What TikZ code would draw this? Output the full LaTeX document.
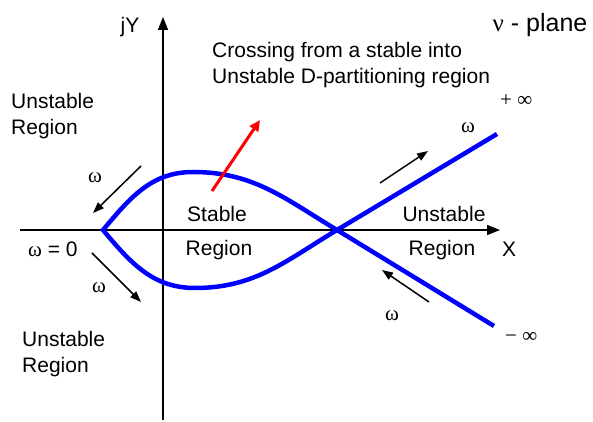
\documentclass[tikz,border=0pt]{standalone}
\usepackage{fontspec}
\setmainfont{Liberation Sans}
\newfontfamily\grk{Liberation Serif}
\usetikzlibrary{arrows.meta}

\begin{document}
\begin{tikzpicture}[
  x=1pt, y=1pt,
  font=\fontsize{21}{26}\selectfont,
  lbl/.style={inner sep=0pt},
  axis/.style={line width=1.6pt, -{Triangle[length=13pt, width=10pt]}},
  curve/.style={draw=blue, line width=4.5pt, line join=miter},
  wdir/.style={line width=1.5pt, -{Triangle[length=11pt, width=8pt]}},
  cross/.style={draw=red, line width=3pt, -{Triangle[length=11pt, width=10pt]}}
]
\useasboundingbox (0,0) rectangle (593,422);
\coordinate (ybot) at (163,2);
\coordinate (ytop) at (163,405);
\coordinate (xleft) at (20,192);
\coordinate (xright) at (500,192);
\draw[axis] (ybot) -- (ytop);
\draw[axis] (xleft) -- (xright);
\node[lbl, anchor=base] (jy) at (130,389) {jY};
\node[lbl, anchor=base] (xlab) at (509,165) {X};
\node[lbl, anchor=base, font=\fontsize{25}{30}\selectfont] (plane) at (540,390) {{\grk ν} - plane};
\node[lbl, align=left, anchor=north west] (note) at (212,380) {Crossing from a stable into\\Unstable D-partitioning region};
\node[lbl, align=left, anchor=north west] (ulreg) at (11,329) {Unstable\\Region};
\node[lbl, align=left, anchor=north west] (llreg) at (22,91) {Unstable\\Region};
\node[lbl, anchor=base] (stab) at (217,200) {Stable};
\node[lbl, anchor=base] (stabreg) at (219,166) {Region};
\node[lbl, anchor=base] (unst) at (444,200) {Unstable};
\node[lbl, anchor=base] (unstreg) at (442,166) {Region};
% curve
\coordinate (cusp) at (103,192);
\coordinate (top) at (193,250);
\coordinate (bot) at (195,134);
\coordinate (mid) at (337,192);
\coordinate (pinf) at (497,288);
\coordinate (minf) at (494,96);
\draw[curve] (minf) -- (mid) to[out=149,in=0] (top) to[out=180,in=50] (cusp)
  to[out=-50,in=180] (bot) to[out=0,in=211] (mid) -- (pinf);
\coordinate (rtail) at (212,231);
\coordinate (rtip) at (260,302);
\draw[cross] (rtail) -- (rtip);
% omega directions
\coordinate (w1a) at (141,256); \coordinate (w1b) at (93,209);
\coordinate (w2a) at (92,169);  \coordinate (w2b) at (141,120);
\coordinate (w3a) at (380,239); \coordinate (w3b) at (428,271);
\coordinate (w4a) at (429,120); \coordinate (w4b) at (382,152);
\draw[wdir] (w1a) -- (w1b);
\draw[wdir] (w2a) -- (w2b);
\draw[wdir] (w3a) -- (w3b);
\draw[wdir] (w4a) -- (w4b);
\node[lbl, font=\fontsize{21}{26}\grk] (om1) at (95,244) {ω};
\node[lbl, font=\fontsize{21}{26}\grk] (om2) at (99,134) {ω};
\node[lbl, font=\fontsize{21}{26}\grk] (om3) at (468,294) {ω};
\node[lbl, font=\fontsize{21}{26}\grk] (om4) at (392,106) {ω};
\node[lbl, anchor=base west] (wzero) at (28,165) {{\grk ω} = 0};
\node[lbl, anchor=base west, font=\fontsize{21}{26}\grk] (pinflab) at (500,315) {+ ∞};
\node[lbl, anchor=base west, font=\fontsize{21}{26}\grk] (minflab) at (505,79) {− ∞};
\end{tikzpicture}
\end{document}
